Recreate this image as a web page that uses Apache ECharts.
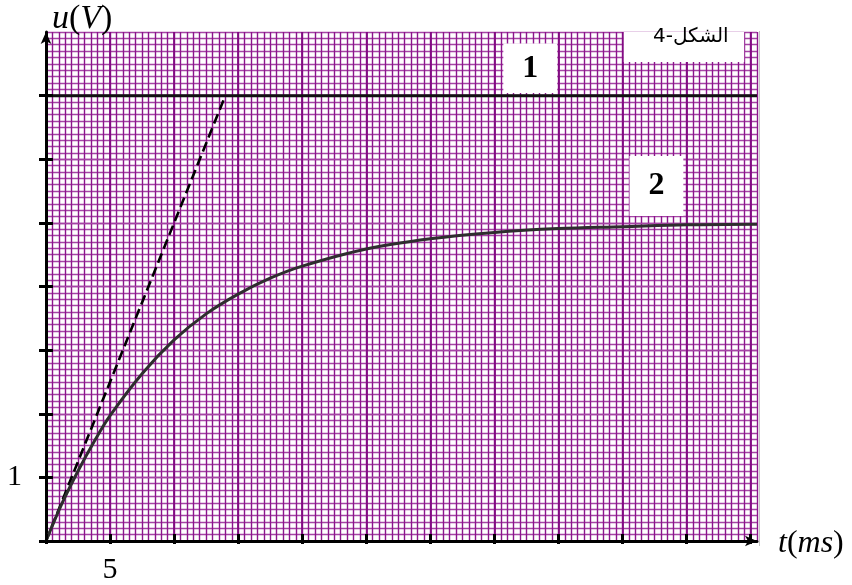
<!DOCTYPE html>
<html>
<head>
<meta charset="utf-8">
<script src="https://cdn.jsdelivr.net/npm/echarts@6/dist/echarts.min.js"></script>
<style>
  html, body { margin: 0; padding: 0; background: #fff; }
  #chart { width: 852px; height: 585px; }
</style>
</head>
<body>
<div id="chart"></div>
<script>
// Time axis (ms) and voltage axis (V)
const tMax = 55.5;
const uMax = 8;
const tTickValues = [0, 5, 10, 15, 20, 25, 30, 35, 40, 45, 50, 55];
const uTickValues = [0, 1, 2, 3, 4, 5, 6, 7];
const tLabelShown = [5];
const uLabelShown = [1];

// Curve 2: charging voltage u(t)
const curveT = [0, 1.25, 2.5, 3.75, 5, 7.5, 10, 12.5, 15, 17.5, 20, 25, 30, 35, 40, 45, 50, 55.5];
const curveU = [0, 0.59, 1.1, 1.56, 1.97, 2.63, 3.16, 3.57, 3.88, 4.13, 4.32, 4.59, 4.75, 4.85, 4.91, 4.94, 4.97, 4.98];

// Tangent at the origin (dashed)
const tangentT = [0, 14];
const tangentU = [0, 7];

// Curve 1: constant level
const level1T = [0, 55.5];
const level1U = [7, 7];

const zip = (a, b) => a.map((v, i) => [v, b[i]]);

const serif = '"Liberation Serif", "Times New Roman", serif';
const purple = '#8c148c';
const purpleLight = '#a545a5';

const hidden = { axisLine: { show: false }, axisTick: { show: false }, axisLabel: { show: false } };

const option = {
  animation: false,
  backgroundColor: '#fff',
  grid: { left: 46, right: 95, top: 32, bottom: 41, containLabel: false },
  xAxis: [
    {
      type: 'value', min: 0, max: tMax, interval: 5, position: 'bottom', z: 1,
      axisLine: { show: true, onZero: false, symbol: ['none', 'arrow'], symbolSize: [8, 12],
        lineStyle: { color: '#000', width: 3 } },
      axisTick: { show: true, inside: false, length: 3, customValues: tTickValues,
        lineStyle: { color: '#000', width: 3 } },
      axisLabel: { show: true, margin: 14, fontFamily: serif, fontSize: 30, color: '#000',
        formatter: v => (tLabelShown.includes(v) ? String(v) : '') },
      splitLine: { show: true, lineStyle: { color: '#820a82', width: 1.8 } }
    },
    Object.assign({
      type: 'value', min: 0, max: tMax, interval: 0.5, position: 'top', z: 0,
      splitLine: { show: true, lineStyle: { color: purple, width: 1.4 } }
    }, hidden),
    {
      type: 'value', min: 0, max: tMax, interval: 5, position: 'bottom', z: 6,
      axisLine: { show: false },
      axisLabel: { show: false },
      splitLine: { show: false },
      axisTick: { show: true, inside: true, length: 7, customValues: tTickValues,
        lineStyle: { color: '#000', width: 3 } }
    }
  ],
  yAxis: [
    {
      type: 'value', min: 0, max: uMax, interval: 1, position: 'left', z: 1,
      axisLine: { show: true, onZero: false, symbol: ['none', 'arrow'], symbolSize: [8, 12],
        lineStyle: { color: '#000', width: 3 } },
      axisTick: { show: true, inside: false, length: 7, customValues: uTickValues,
        lineStyle: { color: '#000', width: 3 } },
      axisLabel: { show: true, margin: 24, fontFamily: serif, fontSize: 30, color: '#000',
        formatter: v => (uLabelShown.includes(v) ? String(v) : '') },
      splitLine: { show: true, lineStyle: { color: purpleLight, width: 1.4 } }
    },
    Object.assign({
      type: 'value', min: 0, max: uMax, interval: 0.1, position: 'right', z: 0,
      splitLine: { show: true, lineStyle: { color: purpleLight, width: 1.4 } }
    }, hidden),
    {
      type: 'value', min: 0, max: uMax, interval: 1, position: 'left', z: 6,
      axisLine: { show: false },
      axisLabel: { show: false },
      splitLine: { show: false },
      axisTick: { show: true, inside: true, length: 7, customValues: uTickValues,
        lineStyle: { color: '#000', width: 3 } }
    }
  ],
  series: [
    {
      // white label boxes over the grid paper
      type: 'line', data: [], xAxisIndex: 0, yAxisIndex: 0, z: 3,
      markArea: {
        silent: true,
        itemStyle: { color: '#fff', opacity: 1 },
        label: { show: true, position: 'inside', fontFamily: serif, fontWeight: 'bold', fontSize: 32, color: '#000' },
        data: [
          [{ name: '1', coord: [35.7, 7.04] }, { coord: [39.9, 7.82] }],
          [{ name: '2', coord: [45.55, 5.11] }, { coord: [49.75, 6.05] }],
          [{ name: '', coord: [45.1, 7.53] }, { coord: [54.5, 8] }]
        ]
      }
    },
    {
      name: '1', type: 'line', data: zip(level1T, level1U), showSymbol: false, z: 4,
      lineStyle: { color: '#111', width: 3 }
    },
    {
      name: 'tangent', type: 'line', data: zip(tangentT, tangentU), showSymbol: false, z: 4,
      lineStyle: { color: '#000', width: 2.6, type: [10, 5] }
    },
    {
      name: '2', type: 'line', data: zip(curveT, curveU), smooth: 0.35, showSymbol: false, z: 4,
      lineStyle: { color: '#2e2e2e', width: 3 }
    }
  ],
  graphic: [
    {
      type: 'text', left: 52, top: 2, z: 10,
      style: {
        text: '{i|u}{n|(}{i|V}{n|)}',
        rich: {
          i: { fontFamily: serif, fontStyle: 'italic', fontSize: 34, fill: '#000' },
          n: { fontFamily: serif, fontSize: 34, fill: '#000' }
        }
      }
    },
    {
      type: 'text', left: 778, top: 528, z: 10,
      style: {
        text: '{i|t}{n|(}{i|ms}{n|)}',
        rich: {
          i: { fontFamily: serif, fontStyle: 'italic', fontSize: 32, fill: '#000' },
          n: { fontFamily: serif, fontSize: 32, fill: '#000' }
        }
      }
    },
    {
      type: 'text', left: 653, top: 27, z: 10,
      style: { text: 'الشكل-4', fontFamily: '"DejaVu Sans", sans-serif', fontSize: 20, fill: '#000' }
    },
    {
      type: 'rect', left: 759, top: 31, z: 1,
      shape: { width: 1, height: 515 },
      style: { fill: '#c4c4c4' }
    }
  ]
};

const chart = echarts.init(document.getElementById('chart'), null, { renderer: 'canvas' });
chart.setOption(option);
</script>
</body>
</html>
